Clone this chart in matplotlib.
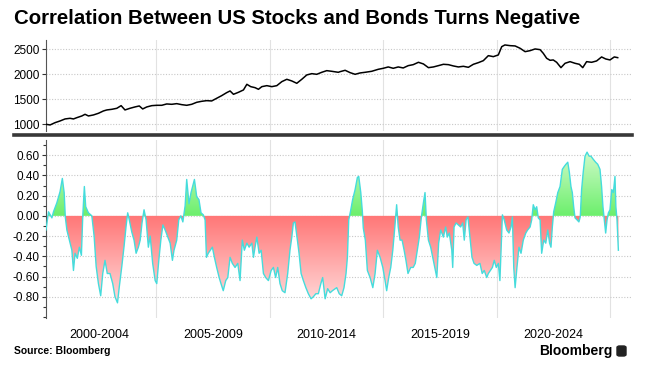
import numpy as np
import matplotlib
matplotlib.use("Agg")
import matplotlib.pyplot as plt
from matplotlib.path import Path
from matplotlib.lines import Line2D
from matplotlib.patches import FancyBboxPatch
from matplotlib.colors import LinearSegmentedColormap
from matplotlib.ticker import FixedLocator, MultipleLocator, FormatStrFormatter, NullFormatter

plt.rcParams['font.family'] = ['Liberation Sans', 'DejaVu Sans']
plt.rcParams['axes.unicode_minus'] = False

title = "Correlation Between US Stocks and Bonds Turns Negative"
source = "Source: Bloomberg"
period_labels = ["2000-2004", "2005-2009", "2010-2014", "2015-2019", "2020-2024"]
period_mid = [2002.5, 2007.5, 2012.5, 2017.5, 2022.5]
period_edges = [2005, 2010, 2015, 2020, 2025]
corr_ticks = [-0.8, -0.6, -0.4, -0.2, 0.0, 0.2, 0.4, 0.6]
stock_ticks = [1000, 1500, 2000, 2500]

# stock index (top panel)
stock_dates = [
    2000.15, 2000.33, 2000.55, 2000.77, 2000.99, 2001.21, 2001.36, 2001.51, 2001.73, 2001.87,
    2002.02, 2002.24, 2002.46, 2002.68, 2002.83, 2003.05, 2003.27, 2003.46, 2003.63, 2003.85,
    2004.07, 2004.26, 2004.41, 2004.59, 2004.81, 2005.03, 2005.25, 2005.47, 2005.69, 2005.91,
    2006.13, 2006.35, 2006.57, 2006.79, 2007.01, 2007.23, 2007.45, 2007.67, 2007.89, 2008.11,
    2008.26, 2008.41, 2008.63, 2008.85, 2009.00, 2009.17, 2009.36, 2009.51, 2009.66, 2009.88,
    2010.10, 2010.32, 2010.54, 2010.76, 2010.98, 2011.20, 2011.42, 2011.64, 2011.86, 2012.08,
    2012.30, 2012.52, 2012.74, 2013.03, 2013.11, 2013.33, 2013.55, 2013.77, 2013.99, 2014.21,
    2014.50, 2014.79, 2015.01, 2015.23, 2015.45, 2015.67, 2015.89, 2016.11, 2016.33, 2016.56,
    2016.78, 2017.00, 2017.22, 2017.44, 2017.66, 2017.88, 2018.10, 2018.32, 2018.54, 2018.76,
    2018.98, 2019.20, 2019.42, 2019.64, 2019.86, 2020.08, 2020.23, 2020.37, 2020.60, 2020.82,
    2021.04, 2021.26, 2021.48, 2021.70, 2021.92, 2022.06, 2022.21, 2022.36, 2022.50, 2022.65,
    2022.84, 2023.02, 2023.24, 2023.46, 2023.65, 2023.80, 2023.97, 2024.19, 2024.41, 2024.63,
    2024.81, 2025.00, 2025.19, 2025.34,
]
stock_values = [
    1000, 987, 1033, 1067, 1107, 1120, 1107, 1133, 1167, 1200,
    1167, 1187, 1220, 1267, 1287, 1300, 1320, 1373, 1287, 1320,
    1347, 1367, 1307, 1347, 1373, 1380, 1380, 1407, 1400, 1413,
    1393, 1380, 1400, 1440, 1460, 1473, 1467, 1520, 1573, 1633,
    1667, 1600, 1640, 1687, 1800, 1753, 1733, 1700, 1753, 1773,
    1753, 1773, 1853, 1900, 1867, 1820, 1900, 1987, 2013, 2000,
    2040, 2073, 2060, 2040, 2053, 2080, 2033, 2000, 2027, 2040,
    2060, 2100, 2120, 2147, 2120, 2147, 2127, 2173, 2193, 2240,
    2207, 2133, 2147, 2173, 2200, 2193, 2167, 2147, 2160, 2140,
    2200, 2233, 2273, 2373, 2353, 2387, 2553, 2587, 2573, 2567,
    2520, 2453, 2473, 2507, 2493, 2420, 2320, 2280, 2287, 2240,
    2133, 2220, 2253, 2220, 2200, 2133, 2253, 2240, 2267, 2347,
    2307, 2287, 2347, 2333,
]

# stock/bond correlation (bottom panel)
corr_dates = [
    2000.15, 2000.26, 2000.41, 2000.48, 2000.63, 2000.77, 2000.87, 2000.95, 2001.00, 2001.07,
    2001.18, 2001.29, 2001.36, 2001.43, 2001.53, 2001.62, 2001.71, 2001.77, 2001.84, 2001.90,
    2002.02, 2002.17, 2002.27, 2002.36, 2002.46, 2002.56, 2002.65, 2002.75, 2002.85, 2002.97,
    2003.09, 2003.19, 2003.30, 2003.38, 2003.49, 2003.59, 2003.68, 2003.75, 2003.82, 2003.93,
    2004.03, 2004.12, 2004.22, 2004.30, 2004.38, 2004.47, 2004.56, 2004.66, 2004.74, 2004.85,
    2004.96, 2005.03, 2005.12, 2005.21, 2005.30, 2005.40, 2005.50, 2005.62, 2005.72, 2005.79,
    2005.91, 2006.00, 2006.09, 2006.18, 2006.28, 2006.35, 2006.45, 2006.54, 2006.69, 2006.79,
    2006.89, 2006.98, 2007.08, 2007.16, 2007.22, 2007.30, 2007.39, 2007.48, 2007.57, 2007.67,
    2007.78, 2007.86, 2007.96, 2008.07, 2008.16, 2008.26, 2008.36, 2008.48, 2008.60, 2008.70,
    2008.80, 2008.89, 2009.00, 2009.10, 2009.22, 2009.29, 2009.36, 2009.44, 2009.54, 2009.63,
    2009.73, 2009.83, 2009.95, 2010.07, 2010.17, 2010.27, 2010.36, 2010.46, 2010.56, 2010.68,
    2010.80, 2010.90, 2010.98, 2011.05, 2011.12, 2011.21, 2011.30, 2011.39, 2011.49, 2011.60,
    2011.71, 2011.83, 2011.93, 2012.04, 2012.15, 2012.26, 2012.34, 2012.45, 2012.56, 2012.67,
    2012.77, 2012.96, 2013.07, 2013.18, 2013.28, 2013.37, 2013.43, 2013.49, 2013.58, 2013.66,
    2013.77, 2013.87, 2013.93, 2014.02, 2014.09, 2014.13, 2014.22, 2014.31, 2014.43, 2014.55,
    2014.65, 2014.75, 2014.87, 2014.99, 2015.09, 2015.16, 2015.25, 2015.34, 2015.43, 2015.52,
    2015.60, 2015.67, 2015.75, 2015.84, 2015.93, 2016.01, 2016.10, 2016.22, 2016.33, 2016.42,
    2016.51, 2016.60, 2016.69, 2016.78, 2016.85, 2016.91, 2017.00, 2017.10, 2017.19, 2017.28,
    2017.37, 2017.45, 2017.54, 2017.66, 2017.76, 2017.83, 2017.92, 2018.03, 2018.07, 2018.13,
    2018.22, 2018.32, 2018.42, 2018.51, 2018.58, 2018.66, 2018.74, 2018.83, 2018.92, 2019.01,
    2019.13, 2019.27, 2019.37, 2019.46, 2019.57, 2019.64, 2019.73, 2019.82, 2019.90, 2019.99,
    2020.08, 2020.15, 2020.20, 2020.26, 2020.34, 2020.45, 2020.55, 2020.64, 2020.70, 2020.76,
    2020.82, 2020.90, 2020.99, 2021.08, 2021.18, 2021.29, 2021.37, 2021.48, 2021.55, 2021.62,
    2021.70, 2021.77, 2021.84, 2021.92, 2021.99, 2022.08, 2022.17, 2022.26, 2022.34, 2022.40,
    2022.46, 2022.52, 2022.61, 2022.70, 2022.80, 2022.90, 2022.99, 2023.06, 2023.14, 2023.21,
    2023.28, 2023.34, 2023.40, 2023.46, 2023.55, 2023.63, 2023.69, 2023.75, 2023.82, 2023.90,
    2023.99, 2024.08, 2024.16, 2024.26, 2024.37, 2024.46, 2024.56, 2024.63, 2024.69, 2024.75,
    2024.81, 2024.87, 2024.93, 2025.00, 2025.08, 2025.15, 2025.22, 2025.26, 2025.31, 2025.37,
]
corr_values = [
    -0.14, 0.04, -0.02, 0.04, 0.13, 0.24, 0.37, 0.23, -0.01, -0.14,
    -0.24, -0.34, -0.54, -0.37, -0.42, -0.31, -0.39, 0.00, 0.29, 0.09,
    0.03, 0.00, -0.20, -0.50, -0.67, -0.79, -0.57, -0.44, -0.57, -0.57,
    -0.67, -0.80, -0.86, -0.70, -0.50, -0.30, -0.10, 0.03, -0.04, -0.16,
    -0.24, -0.37, -0.31, -0.24, -0.07, 0.06, -0.04, -0.31, -0.20, -0.47,
    -0.64, -0.67, -0.44, -0.24, -0.09, -0.14, -0.20, -0.27, -0.44, -0.34,
    -0.24, -0.04, 0.00, -0.06, 0.10, 0.36, 0.12, 0.23, 0.36, 0.19,
    0.16, 0.03, 0.01, -0.04, -0.41, -0.37, -0.34, -0.31, -0.41, -0.51,
    -0.61, -0.67, -0.74, -0.64, -0.61, -0.41, -0.47, -0.51, -0.47, -0.64,
    -0.24, -0.34, -0.27, -0.31, -0.27, -0.41, -0.31, -0.21, -0.37, -0.34,
    -0.57, -0.61, -0.64, -0.54, -0.51, -0.61, -0.51, -0.67, -0.74, -0.76,
    -0.57, -0.34, -0.21, -0.07, -0.06, -0.21, -0.37, -0.57, -0.64, -0.71,
    -0.77, -0.82, -0.80, -0.77, -0.77, -0.67, -0.61, -0.82, -0.72, -0.76,
    -0.74, -0.71, -0.77, -0.79, -0.71, -0.57, -0.41, -0.04, 0.06, 0.16,
    0.26, 0.38, 0.39, 0.23, 0.04, -0.12, -0.24, -0.54, -0.61, -0.71,
    -0.57, -0.34, -0.41, -0.51, -0.64, -0.74, -0.61, -0.51, -0.34, -0.11,
    0.11, -0.11, -0.24, -0.24, -0.34, -0.44, -0.57, -0.51, -0.51, -0.47,
    -0.34, -0.21, -0.01, 0.13, 0.23, -0.04, -0.24, -0.31, -0.41, -0.51,
    -0.61, -0.27, -0.14, -0.21, -0.11, -0.21, -0.17, -0.34, -0.51, -0.11,
    -0.07, -0.09, -0.11, -0.07, -0.24, -0.04, -0.01, -0.21, -0.41, -0.47,
    -0.49, -0.47, -0.57, -0.54, -0.61, -0.57, -0.54, -0.51, -0.44, -0.51,
    -0.47, -0.64, -0.34, 0.01, -0.04, -0.14, -0.17, -0.11, -0.01, -0.51,
    -0.71, -0.51, -0.31, -0.37, -0.24, -0.17, -0.14, -0.11, -0.04, 0.11,
    0.06, 0.09, -0.02, -0.04, -0.37, -0.24, -0.27, -0.14, -0.27, -0.31,
    -0.11, 0.04, 0.13, 0.23, 0.29, 0.46, 0.49, 0.51, 0.53, 0.43,
    0.29, 0.23, 0.09, -0.02, -0.04, -0.06, -0.01, 0.26, 0.43, 0.59,
    0.63, 0.59, 0.59, 0.56, 0.53, 0.51, 0.46, 0.29, 0.09, -0.04,
    -0.17, -0.04, 0.03, 0.06, 0.26, 0.23, 0.39, 0.09, -0.04, -0.34,
]


def gradient_area(ax, x, y, where, lo, hi, colors):
    body = ax.fill_between(x, 0, y, where=where, interpolate=True, facecolor='none', lw=0)
    clip = Path.make_compound_path(*body.get_paths())
    cmap = LinearSegmentedColormap.from_list('shade', colors)
    img = ax.imshow(np.linspace(0, 1, 256).reshape(-1, 1), cmap=cmap, aspect='auto',
                    origin='lower', extent=(x[0], x[-1], lo, hi), zorder=1,
                    interpolation='bilinear')
    img.set_clip_path(clip, ax.transData)


fig = plt.figure(figsize=(6.46, 3.70), dpi=100)
W, H = 646, 370
ax1 = fig.add_axes([46 / W, 1 - 131 / H, 586 / W, 91 / H])
ax2 = fig.add_axes([46 / W, 1 - 318 / H, 586 / W, 178 / H])

for ax in (ax1, ax2):
    for s in ('top', 'right', 'bottom'):
        ax.spines[s].set_visible(False)
    ax.spines['left'].set_color('#555555')
    ax.spines['left'].set_linewidth(0.8)
    ax.set_xlim(2000.15, 2025.97)
    ax.xaxis.set_major_locator(FixedLocator(period_edges))
    ax.xaxis.set_major_formatter(NullFormatter())
    ax.tick_params(axis='x', which='both', length=0)
    ax.tick_params(axis='y', which='both', direction='out', color='#333333',
                   labelsize=8.5, pad=1.5, width=0.8)
    ax.tick_params(axis='y', which='major', length=3)
    ax.tick_params(axis='y', which='minor', length=2)
    ax.grid(axis='x', which='major', color='#e2e2e2', lw=0.8, ls='-')
    ax.grid(axis='y', which='major', color='#c8c8c8', lw=0.8, ls=(0, (1, 1.5)))
    ax.set_axisbelow(True)

# top panel
ax1.plot(stock_dates, stock_values, color='black', lw=1.1, zorder=3)
ax1.set_ylim(866, 2686)
ax1.yaxis.set_major_locator(FixedLocator(stock_ticks))

# bottom panel
cx = np.array(corr_dates)
cy = np.array(corr_values)
gradient_area(ax2, cx, cy, cy <= 0, -0.9, 0.0, ['#ffdede', '#ff7676'])
gradient_area(ax2, cx, cy, cy >= 0, 0.0, 0.65, ['#6cef6c', '#d2fbcc'])
ax2.plot(cx, cy, color='#45dcdc', lw=1.0, zorder=3)
ax2.set_ylim(-1.01, 0.75)
ax2.set_xlim(2000.15, 2025.97)
ax2.yaxis.set_major_locator(FixedLocator(corr_ticks))
ax2.yaxis.set_minor_locator(MultipleLocator(0.1))
ax2.yaxis.set_major_formatter(FormatStrFormatter('%.2f'))
ax2.xaxis.set_minor_locator(FixedLocator(period_mid))
ax2.set_xticks(period_mid, period_labels, minor=True)
ax2.tick_params(axis='x', which='minor', labelsize=9, pad=8)

# separator between panels
fig.add_artist(Line2D([14 / W, 632 / W], [1 - 135 / H] * 2, color='#383838', lw=2.6))

fig.text(14 / W, 1 - 19 / H, title, fontsize=14.7, fontweight='bold', va='center', ha='left')
fig.text(14 / W, 1 - 351 / H, source, fontsize=7.5, fontweight='bold', va='center', ha='left')
fig.text(613 / W, 1 - 351 / H, "Bloomberg", fontsize=10, fontweight='bold', va='center', ha='right')
fig.add_artist(FancyBboxPatch((617 / W, 1 - 356 / H), 9 / W, 10 / H,
                              boxstyle='round,pad=0,rounding_size=0.004',
                              transform=fig.transFigure, color='#222222'))

fig.savefig('out.png', dpi=100)
